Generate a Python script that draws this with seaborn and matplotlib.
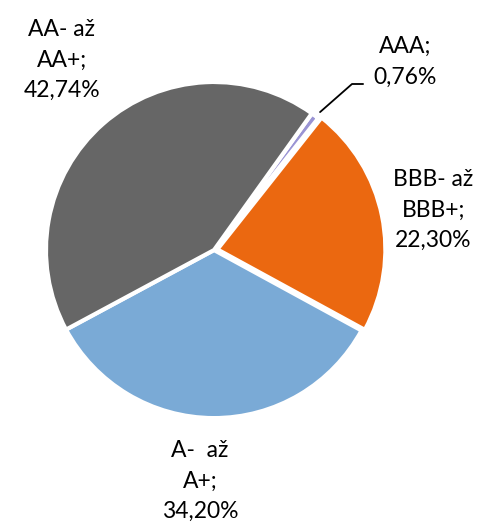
import matplotlib
matplotlib.use("Agg")
import matplotlib.pyplot as plt
import seaborn as sns

# rating buckets, in drawing order (clockwise from ~1 o'clock)
categories = ["AAA", "BBB- až\nBBB+", "A-  až\nA+", "AA- až\nAA+"]
shares = [0.76, 22.30, 34.20, 42.74]
colors = ["#9a94d4", "#eb6810", "#7aaad6", "#666666"]

sns.set_style("white")
plt.rcParams["font.family"] = ["Lato", "DejaVu Sans"]

fig = plt.figure(figsize=(4.85, 5.22), dpi=100)
ax = fig.add_axes([0.0948, 0.199, 0.693, 0.644])

ax.pie(shares, colors=colors, startangle=54.4, counterclock=False,
       explode=[0, 0.02, 0, 0],
       wedgeprops=dict(edgecolor="white", linewidth=3))
ax.set_xlim(-1, 1)
ax.set_ylim(-1, 1)
ax.set_aspect("equal")
ax.axis("off")

# data label positions (axes data coords)
label_pos = [(1.137, 1.119), (1.304, 0.238), (-0.083, -1.375), (-0.905, 1.131)]
for cat, val, (x, y) in zip(categories, shares, label_pos):
    txt = f"{cat};\n{val:.2f}%".replace(".", ",")
    ax.text(x, y, txt, ha="center", va="center", fontsize=16.5,
            linespacing=1.55, color="black", clip_on=False)

# leader line for the tiny AAA slice
ax.plot([0.631, 0.821, 0.887], [0.821, 0.988, 0.988], color="black",
        lw=1.3, clip_on=False)

fig.savefig("out.png", dpi=100)
plt.close(fig)
